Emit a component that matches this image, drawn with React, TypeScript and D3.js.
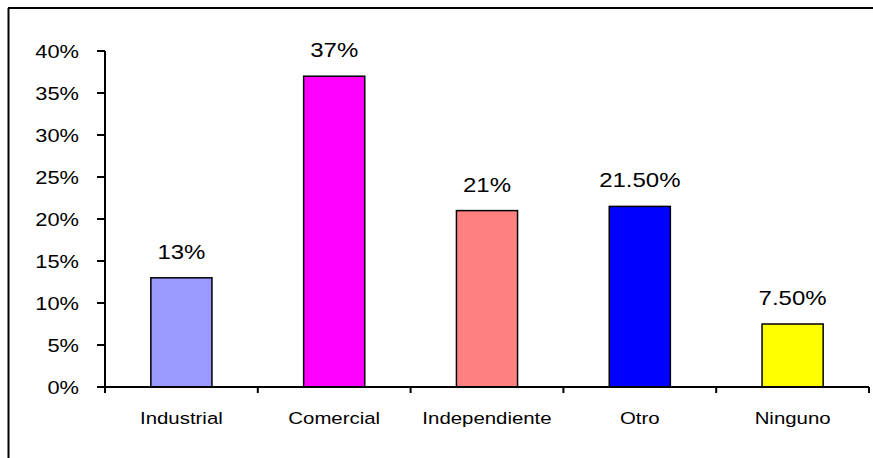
import React from "react";
import * as d3 from "d3";

const categories = ["Industrial", "Comercial", "Independiente", "Otro", "Ninguno"];
const values = [0.13, 0.37, 0.21, 0.215, 0.075];
const valueLabels = ["13%", "37%", "21%", "21.50%", "7.50%"];
const barColors = ["#9999FF", "#FF00FF", "#FF8080", "#0000FF", "#FFFF00"];
const yTicks = [0, 0.05, 0.1, 0.15, 0.2, 0.25, 0.3, 0.35, 0.4];

const W = 873;
const H = 458;
const FONT = "'Liberation Sans', Arial, Helvetica, sans-serif";

export default function App() {
  const left = 105;
  const right = 869;
  const top = 51;
  const bottom = 387;

  const y = d3.scaleLinear().domain([0, 0.4]).range([bottom, top]);
  const x = d3
    .scaleBand<string>()
    .domain(categories)
    .range([left, right])
    .paddingInner(0.6)
    .paddingOuter(0.3);
  const step = x.step();
  const fmt = d3.format(".0%");

  return (
    <svg
      width={W}
      height={H}
      style={{ position: "absolute", left: 0, top: 0, background: "#fff" }}
      fontFamily={FONT}
    >
      {/* outer frame (only left & top visible) */}
      <line x1={8.5} y1={8} x2={8.5} y2={H} stroke="#000" strokeWidth={2} />
      <line x1={8} y1={8} x2={W} y2={8} stroke="#000" strokeWidth={2.2} />

      {/* bars */}
      {categories.map((c, i) => (
        <rect
          key={c}
          x={x(c)!}
          y={y(values[i])}
          width={x.bandwidth()}
          height={bottom - y(values[i])}
          fill={barColors[i]}
          stroke="#000"
          strokeWidth={1.5}
        />
      ))}

      {/* value labels */}
      {categories.map((c, i) => (
        <text
          key={c}
          transform={`translate(${x(c)! + x.bandwidth() / 2},${y(values[i]) - 19}) scale(1.2,1)`}
          textAnchor="middle"
          fontSize={20}
          fill="#000"
        >
          {valueLabels[i]}
        </text>
      ))}

      {/* y axis */}
      <line x1={left} y1={top} x2={left} y2={bottom} stroke="#000" strokeWidth={2} />
      {yTicks.map((t) => (
        <g key={t}>
          <line x1={left - 8} x2={left} y1={y(t)} y2={y(t)} stroke="#000" strokeWidth={2} />
          <text
            transform={`translate(79,${y(t)}) scale(1.15,1)`}
            textAnchor="end"
            dy="0.35em"
            fontSize={19}
            fill="#000"
          >
            {fmt(t)}
          </text>
        </g>
      ))}

      {/* x axis */}
      <line x1={left} y1={bottom} x2={right} y2={bottom} stroke="#000" strokeWidth={2} />
      {categories.map((c, i) => (
        <line
          key={"t" + c}
          x1={left + i * step}
          x2={left + i * step}
          y1={bottom}
          y2={bottom + 6}
          stroke="#000"
          strokeWidth={2}
        />
      ))}
      <line x1={right} x2={right} y1={bottom} y2={bottom + 6} stroke="#000" strokeWidth={2} />
      {categories.map((c) => (
        <text
          key={"l" + c}
          transform={`translate(${x(c)! + x.bandwidth() / 2},424) scale(1.2,1)`}
          textAnchor="middle"
          fontSize={17}
          fill="#000"
        >
          {c}
        </text>
      ))}
    </svg>
  );
}
